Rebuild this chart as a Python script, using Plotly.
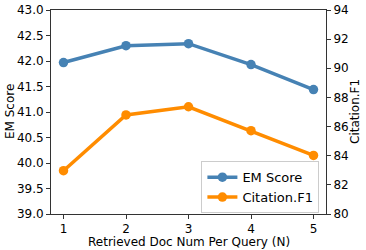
import plotly.graph_objects as go

doc_num = [1, 2, 3, 4, 5]
em_score = [41.97, 42.30, 42.34, 41.93, 41.44]
citation_f1 = [82.97, 86.80, 87.36, 85.72, 84.02]

blue = "#4682B4"
orange = "#FF8C00"
tick_font = dict(family="DejaVu Sans", size=12, color="black")
title_font = dict(family="DejaVu Sans", size=12, color="black")

fig = go.Figure()
fig.add_trace(go.Scatter(x=doc_num, y=em_score, name="EM Score", mode="lines+markers",
                         line=dict(color=blue, width=3.5), marker=dict(size=9.5, color=blue)))
fig.add_trace(go.Scatter(x=doc_num, y=citation_f1, name="Citation.F1", mode="lines+markers",
                         line=dict(color=orange, width=3.5), marker=dict(size=9.5, color=orange),
                         yaxis="y2"))

axis_common = dict(showline=True, linecolor="#333333", linewidth=1, ticks="outside",
                   ticklen=4, tickcolor="#333333", showgrid=False, zeroline=False,
                   tickfont=tick_font, automargin=False)

fig.update_layout(
    width=366, height=250,
    margin=dict(l=51, r=39.5, t=10, b=36),
    plot_bgcolor="white", paper_bgcolor="white",
    font=title_font,
    xaxis=dict(range=[0.8, 5.2], tickvals=doc_num, mirror=True, **axis_common),
    yaxis=dict(range=[39, 43], dtick=0.5, tickformat=".1f", mirror=True, **axis_common),
    yaxis2=dict(range=[80, 94], dtick=2, overlaying="y", side="right", **axis_common),
    legend=dict(x=0.976, y=0.004, xanchor="right", yanchor="bottom",
                bgcolor="white", bordercolor="#CCCCCC", borderwidth=1,
                font=dict(family="DejaVu Sans", size=13, color="black"),
                tracegroupgap=0, itemwidth=30),
    showlegend=True,
    hovermode=False,
    annotations=[
        dict(text="Retrieved Doc Num Per Query (N)", xref="paper", yref="paper",
             x=0.5, y=0, yshift=-28, xanchor="center", yanchor="middle",
             showarrow=False, font=title_font),
        dict(text="EM Score", xref="paper", yref="paper", x=0, y=0.5, xshift=-41,
             xanchor="center", yanchor="middle", textangle=-90,
             showarrow=False, font=title_font),
        dict(text="Citation.F1", xref="paper", yref="paper", x=1, y=0.5, xshift=29,
             xanchor="center", yanchor="middle", textangle=-90,
             showarrow=False, font=title_font),
    ],
)

fig.write_html("out.html", config={"displayModeBar": False},
               post_script="document.body.style.margin='0';")
